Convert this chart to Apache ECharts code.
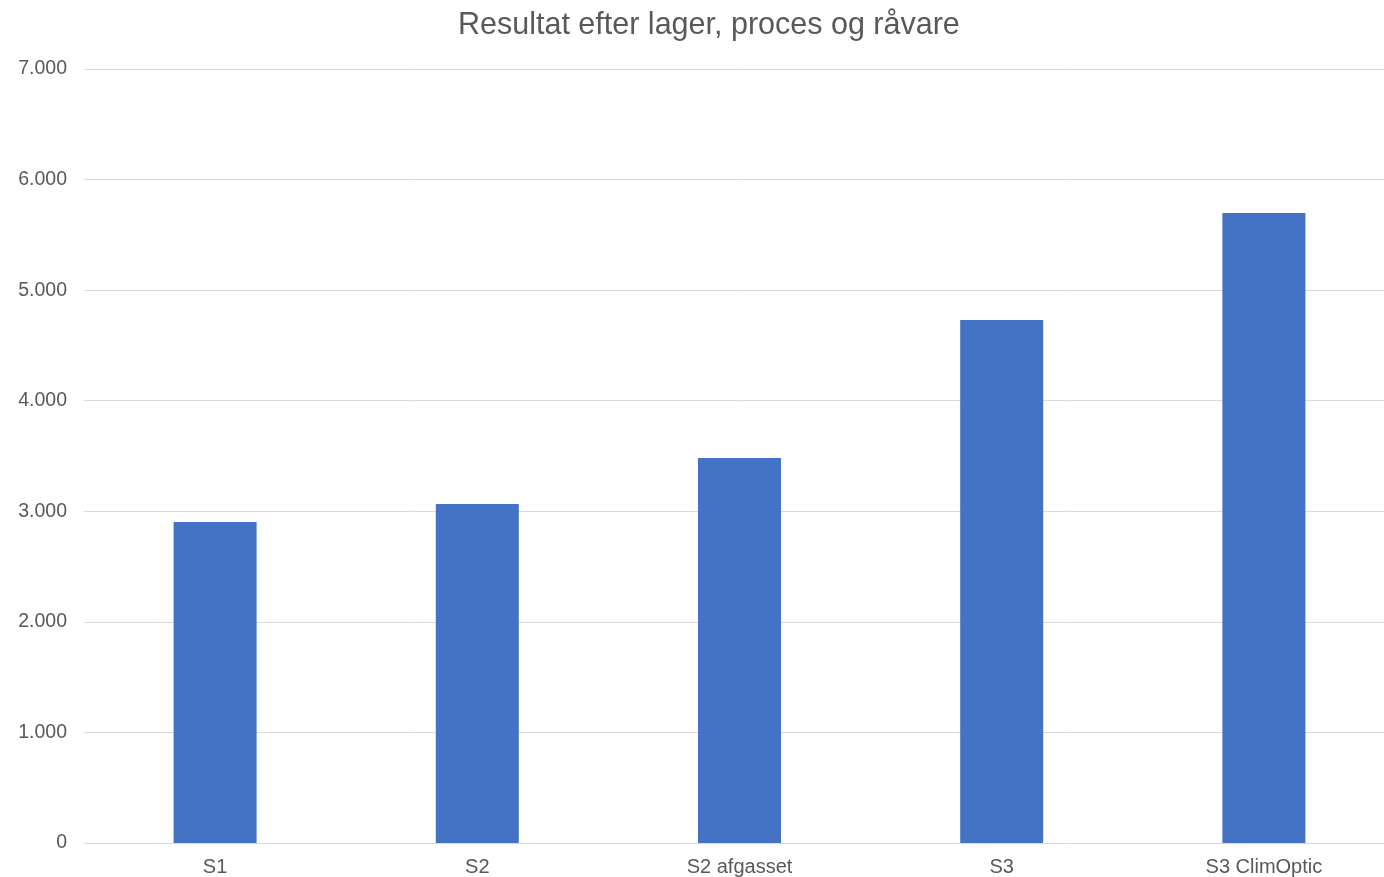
<!DOCTYPE html>
<html>
<head>
<meta charset="utf-8">
<script src="https://cdn.jsdelivr.net/npm/echarts@6/dist/echarts.min.js"></script>
<style>html,body{margin:0;padding:0;background:#fff;overflow:hidden}#c{width:1400px;height:877px}</style>
</head>
<body>
<div id="c"></div>
<script>
var categories = ["S1", "S2", "S2 afgasset", "S3", "S3 ClimOptic"];
var values = [2903, 3066, 3482, 4730, 5698];
var yTicks = [0, 1000, 2000, 3000, 4000, 5000, 6000, 7000];

var chart = echarts.init(document.getElementById('c'), null, {renderer: 'canvas'});
chart.setOption({
  animation: false,
  backgroundColor: '#ffffff',
  title: {
    text: 'Resultat efter lager, proces og råvare',
    left: 458,
    top: 10,
    padding: 0,
    textStyle: {fontFamily: 'Liberation Sans, Arial, sans-serif', fontSize: 30.5, fontWeight: 'normal', color: '#595959'}
  },
  grid: {left: 84, top: 69, width: 1311, bottom: 34, containLabel: false},
  xAxis: {
    type: 'category',
    data: categories,
    axisLine: {lineStyle: {color: '#d9d9d9', width: 1}},
    axisTick: {show: false},
    axisLabel: {fontFamily: 'Liberation Sans, Arial, sans-serif', fontSize: 20, color: '#595959', margin: 14}
  },
  yAxis: {
    type: 'value',
    min: yTicks[0],
    max: yTicks[yTicks.length - 1],
    interval: 1000,
    axisLine: {show: false},
    axisTick: {show: false},
    splitLine: {lineStyle: {color: '#d9d9d9', width: 1}},
    axisLabel: {
      fontFamily: 'Liberation Sans, Arial, sans-serif', fontSize: 19.5, color: '#595959', margin: 17,
      formatter: function (v) { return v === 0 ? '0' : v.toString().replace(/\B(?=(\d{3})+(?!\d))/g, '.'); }
    }
  },
  series: [{
    type: 'bar',
    data: values,
    barWidth: 83,
    itemStyle: {color: '#4472C4'}
  }]
});
</script>
</body>
</html>
